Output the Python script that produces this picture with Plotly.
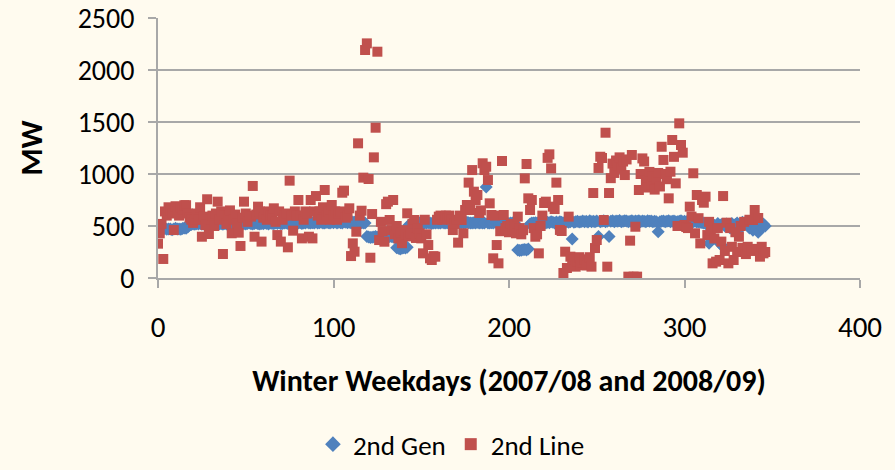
import plotly.graph_objects as go

# 2nd Gen (MW) per winter weekday index
gen_mw = [
    500, 470, 465, 470, 475, 468, 472, 470, 465, 470, 478, 472, 470, 468, 475, 480, 478, 490,
    510, 515, 520, 518, 522, 520, 525, 518, 520, 523,
    520, 525, 522, 518, 520, 525, 528, 520, 522, 518,
    525, 520, 522, 528, 520, 518, 525, 522, 520, 525,
    528, 522, 520, 525, 530, 522, 520, 525, 528, 522,
    520, 525, 522, 530, 525, 520, 528, 525, 522, 530,
    525, 528, 522, 525, 530, 528, 525, 522, 530, 528,
    525, 530, 528, 532, 525, 528, 530, 535, 528, 530,
    532, 528, 535, 530, 532, 535, 530, 528, 535, 532,
    530, 535, 532, 538, 530, 535, 532, 530, 538, 535,
    532, 535, 530, 538, 535, 532, 530, 535, 532, 530, 528,
    400, 395, 390, 392, 395, 398, 392, 390, 395, 400, 398, 392, 395, 398, 400, 395, 392,
    290, 285, 280, 285, 290, 288, 295,
    510, 520, 525, 528, 522, 525, 530, 528, 525, 530,
    528, 532, 530, 525, 528, 530, 532, 528, 530, 535,
    530, 528, 532, 530, 535, 530, 528, 532, 535, 530,
    532, 528, 530, 535, 532, 530, 528, 532, 530, 535,
    530, 532, 528, 530,
    875,
    530, 528, 532, 530, 535, 530, 528, 525, 530, 532, 528, 530, 525, 528, 530, 520, 515,
    270, 265, 268, 272, 275, 270, 280,
    520, 528, 530, 532, 528, 535, 530, 532, 538, 530, 535, 532, 540, 535, 530, 538, 532, 540, 535, 530, 538, 542, 535, 540,
    375,
    535, 540, 545, 538, 542, 548, 540, 545, 538, 550, 542, 545, 540, 548,
    400,
    540, 545, 550, 542, 545,
    400,
    545, 550, 540, 548, 545, 552, 540, 545, 550, 548, 542, 545, 550, 540, 548, 545, 550, 542, 548, 545, 540, 550, 545, 548, 542, 545, 540,
    445,
    540, 545, 548, 542, 545, 550, 540, 545, 548, 542, 540, 545, 550, 542, 545, 540, 548, 545, 542, 540, 545, 538, 540, 535, 532, 530, 525, 520,
    335,
    510, 520, 505, 500, 525, 335, 515,
    300,
    500, 520, 510, 480, 525, 470, 515, 530, 465, 520, 535, 525, 540, 530,
    480, 500, 460, 520, 470, 440, 500, 480, 520, 500,
]

# 2nd Line (MW) per winter weekday index
line_mw = [
    330, 430, 520, 183, 640, 600, 680, 650, 620, 461,
    690, 640, 600, 680, 660, 700, 700, 620, 580, 560,
    530, 560, 620, 560, 680, 397, 590, 510, 757, 423,
    560, 600, 500, 620, 734, 560, 640, 231, 600, 520,
    600, 650, 430, 560, 610, 520, 436, 308, 580, 734,
    620, 540, 600, 590, 885, 397, 610, 686, 640, 350,
    580, 620, 560, 640, 600, 600, 670, 540, 413, 640,
    350, 560, 600, 620, 295, 936, 600, 455, 640, 600,
    750, 600, 381, 560, 640, 620, 397, 750, 381, 640,
    788, 600, 640, 560, 680, 846, 600, 640, 560, 702,
    600, 640, 560, 620, 640, 820, 840, 580, 600, 670,
    211, 333, 253, 445, 1295, 600, 647, 965, 2192, 2256,
    952, 195, 615, 1160, 1445, 2176, 365, 540, 450, 349,
    710, 734, 558, 461, 750, 420, 500, 380, 440, 335,
    460, 420, 622, 400, 430, 520, 558, 385, 480, 430,
    381, 237, 560, 420, 317, 189, 173, 210, 205, 560,
    590, 600, 560, 580, 600, 574, 600, 560, 461, 520,
    558, 340, 600, 558, 430, 654, 702, 917, 654, 1038,
    830, 750, 798, 625, 650, 1103, 1038, 1070, 942, 718,
    606, 189, 600, 317, 141, 450, 1125, 606, 480, 500,
    440, 520, 470, 500, 430, 590, 480, 420, 460, 958,
    1096, 766, 654, 750, 480, 397, 420, 237, 500, 600,
    721, 734, 1155, 1189, 1054, 686, 663, 917, 750, 462,
    452, 48, 253, 96, 590, 205, 144, 180, 109, 160,
    200, 125, 150, 180, 120, 140, 200, 109, 817, 288,
    365, 1058, 1166, 1154, 558, 1397, 109, 817, 960, 1100,
    1010, 1130, 1080, 1160, 1050, 1120, 990, 1140, 13, 359,
    1183, 13, 493, 13, 846, 1000, 1150, 1120, 940, 870,
    1020, 900, 980, 850, 960, 1010, 880, 1262, 1135, 1000,
    950, 766, 1022, 1327, 1165, 910, 500, 1487, 1279, 1205,
    510, 490, 480, 686, 590, 1007, 430, 798, 575, 333,
    750, 724, 782, 413, 540, 460, 141, 380, 157, 480,
    173, 350, 788, 260, 532, 141, 480, 300, 173, 440,
    250, 397, 500, 290, 540, 230, 300, 560, 260, 558,
    654, 280, 577, 205, 300, 237, 250,
]

gen_days = list(range(len(gen_mw)))
line_days = list(range(len(line_mw)))

x_ticks = [0, 100, 200, 300, 400]
y_ticks = [0, 500, 1000, 1500, 2000, 2500]

FONT = "Carlito, 'Liberation Sans Narrow', 'DejaVu Sans Condensed', sans-serif"
BG = "#FFFBEF"
GRID = "#A8A8A8"

fig = go.Figure()
fig.add_trace(go.Scatter(
    x=gen_days, y=gen_mw, mode="markers", name="2nd Gen",
    marker=dict(symbol="diamond", size=10, color="#4F81BD", line=dict(width=0)),
))
fig.add_trace(go.Scatter(
    x=line_days, y=line_mw, mode="markers", name="2nd Line",
    marker=dict(symbol="square", size=10, color="#C0504D", line=dict(width=0)),
))

fig.update_layout(
    width=895, height=470,
    margin=dict(l=158, r=35, t=18, b=192, autoexpand=False),
    paper_bgcolor=BG, plot_bgcolor=BG,
    font=dict(family=FONT, size=29, color="#000000"),
    showlegend=True,
    legend=dict(orientation="h", x=0.418, xanchor="center", y=-0.735, yanchor="bottom",
                font=dict(size=27), bgcolor="rgba(0,0,0,0)", itemsizing="constant",
                borderwidth=0),
    xaxis=dict(
        range=[0, 400], tickvals=x_ticks, ticktext=[str(v) for v in x_ticks],
        showgrid=False, zeroline=False,
        showline=True, linecolor=GRID, linewidth=2,
        ticks="outside", ticklen=8, tickcolor=GRID, tickwidth=2,
        tickfont=dict(size=29), ticklabelstandoff=14,
        title=dict(text="<b>Winter Weekdays (2007/08 and 2008/09)</b>", font=dict(size=30), standoff=26),
    ),
    yaxis=dict(
        range=[0, 2500], tickvals=y_ticks, ticktext=[str(v) for v in y_ticks],
        showgrid=True, gridcolor=GRID, gridwidth=2, zeroline=False,
        showline=True, linecolor=GRID, linewidth=2,
        ticks="outside", ticklen=8, tickcolor=GRID, tickwidth=2,
        tickfont=dict(size=28), ticklabelstandoff=8,
        title=dict(text="<b>MW</b>", font=dict(size=31), standoff=26),
    ),
)

fig.write_html(
    "out.html",
    config={"displayModeBar": False},
    post_script="document.body.style.margin='0px';document.body.style.overflow='hidden';",
)
